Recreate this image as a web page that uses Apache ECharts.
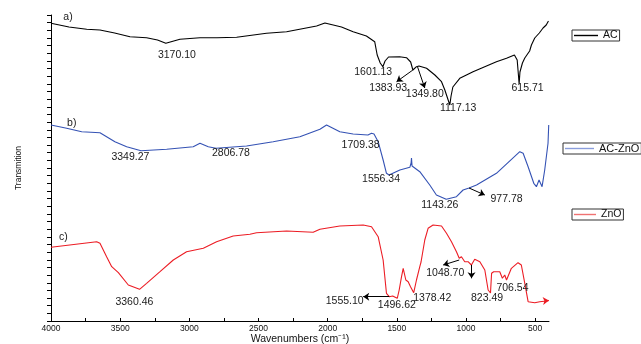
<!DOCTYPE html>
<html>
<head>
<meta charset="utf-8">
<script src="https://cdn.jsdelivr.net/npm/echarts@6/dist/echarts.min.js"></script>
<style>
  html, body { margin: 0; padding: 0; background: #fff; }
  #chart { width: 641px; height: 344px; }
</style>
</head>
<body>
<div id="chart"></div>
<script>
// ---- FTIR spectra: [wavenumber (cm-1), transmittance (offset, a.u.)] ----
const seriesNames = ['AC', 'AC-ZnO', 'ZnO'];

const xTickLabels = [4000, 3500, 3000, 2500, 2000, 1500, 1000, 500];
const xTickMarks = [4000, 3750, 3500, 3250, 3000, 2750, 2500, 2250, 2000, 1750, 1500, 1250, 1000, 750, 500];

const acSpectrum = [
  [4000, 297.7], [3870, 294], [3742, 291.7], [3646, 291], [3540, 288], [3429, 284.3],
  [3309, 283.3], [3230, 281], [3170, 277.7], [3068, 281.7], [2923, 283.3], [2800, 283.3],
  [2658, 283.7], [2442, 287.7], [2297, 289.3], [2080, 295], [2020, 298], [1900, 294],
  [1816, 289.3], [1720, 285], [1660, 279.3], [1642, 266], [1620, 258], [1601, 254.3],
  [1585, 260], [1560, 264], [1480, 264.3], [1430, 263.3], [1400, 259], [1384, 251],
  [1370, 252.7], [1358, 254.3], [1340, 255], [1285, 252.7], [1225, 246], [1177, 239.3],
  [1153, 231], [1129, 221], [1117, 216], [1108, 225], [1095, 234], [1045, 242.7],
  [949, 249.3], [780, 259.3], [707, 262.7], [650, 266], [630, 261], [621, 246],
  [616, 237], [610, 249], [592, 258], [575, 263], [563, 265], [540, 270], [527, 276],
  [503, 283], [470, 288], [443, 293], [420, 296], [404, 300]
];

const acZnoSpectrum = [
  [4000, 196], [3887, 192.7], [3778, 189.3], [3646, 188.3], [3538, 179.3], [3453, 174.3],
  [3349, 170.3], [3164, 171.7], [2972, 174.3], [2923, 177.7], [2863, 174.3], [2807, 172.7],
  [2586, 175], [2394, 179.3], [2201, 184.3], [2056, 191.7], [2008, 196], [1912, 189.3],
  [1816, 187], [1709, 186], [1683, 187.7], [1665, 187], [1635, 179.3], [1599, 161],
  [1575, 147.7], [1556, 146], [1478, 151], [1406, 153.7], [1397, 158], [1394, 163],
  [1390, 155], [1334, 149.3], [1262, 136], [1214, 126], [1143, 121.7], [1069, 124.3],
  [1021, 131], [978, 133], [924, 136], [780, 147.7], [611, 169.3], [587, 167.7],
  [551, 154.3], [510, 137.7], [491, 134.3], [472, 141], [450, 134.3], [431, 151],
  [414, 170], [407, 177.7], [402, 196]
];

const znoSpectrum = [
  [4000, 73.7], [3670, 79.3], [3646, 77.7], [3598, 64.3], [3561, 54.3], [3513, 48.3],
  [3441, 36], [3360, 31.7], [3309, 37.7], [3212, 49.3], [3116, 61], [3020, 69.3],
  [2899, 72.7], [2803, 79.3], [2683, 85], [2562, 86.7], [2514, 88.3], [2297, 90],
  [2105, 88.7], [2056, 91.7], [1912, 95], [1743, 96], [1683, 94.3], [1635, 84.3],
  [1599, 61], [1575, 27.7], [1555, 24.3], [1545, 26], [1530, 25], [1497, 22.7],
  [1483, 31], [1466, 44.3], [1454, 52.7], [1435, 41], [1418, 39.3], [1401, 34.3],
  [1378, 28.3], [1358, 41], [1334, 54.3], [1325, 59], [1298, 81], [1274, 92.7],
  [1238, 96], [1177, 95], [1141, 87.7], [1105, 79.3], [1069, 69.3], [1049, 62.7],
  [1033, 64.3], [1009, 59.3], [985, 59.3], [961, 56], [937, 61.7], [900, 59.3],
  [864, 51], [840, 31], [823, 28], [815, 47.7], [800, 49.3], [756, 49.3],
  [737, 42.7], [720, 46], [707, 41], [672, 52.7], [624, 58.3], [600, 56],
  [575, 37.7], [551, 19.3], [503, 18.3], [467, 19.3], [404, 20.3]
];

// Peak annotations (text) for each spectrum
const acPeakLabels = ['3170.10', '1601.13', '1383.93', '1349.80', '1117.13', '615.71'];
const acZnoPeakLabels = ['3349.27', '2806.78', '1709.38', '1556.34', '1143.26', '977.78'];
const znoPeakLabels = ['3360.46', '1555.10', '1496.62', '1378.42', '1048.70', '823.49', '706.54'];
const panelLabels = ['a)', 'b)', 'c)'];

// ---- Layout of annotations, in axis coordinates ----
const acLabelPos = [[3090, 266], [1671, 249.3], [1563, 232.7], [1298, 226.7], [1057, 212.7], [555, 232.7]];
const acZnoLabelPos = [[3426, 164.3], [2699, 167.7], [1762, 176], [1614, 141.7], [1189, 116], [707, 121.7]];
const znoLabelPos = [[3397, 19.3], [1877, 20], [1500, 16], [1244, 23.3], [1150, 48.3], [848, 22.7], [664, 32.7]];
const panelLabelPos = [[3877, 304.3], [3850, 197.7], [3911, 84.3]];

const acArrows = [[[1384, 251], [1502, 239.3]], [[1350, 254], [1298, 233]]];
const acZnoArrows = [[[978, 133], [864, 126]]];
const znoArrows = [[[1555, 24.3], [1743, 24.3]], [[1049, 61], [1165, 56]], [[960, 56], [960, 42.7]]];
const znoTailArrow = [[426, 20.3], [401, 20.6]];

const FONT = "'Liberation Sans', Arial, Helvetica, sans-serif";
const lineColors = ['#000000', '#3452b4', '#ec1c24'];
const legendColors = ['#000000', '#8a9ddc', '#f07272'];

function labelMarks(texts, positions, panelIdx) {
  const items = texts.map((t, i) => ({ name: t, coord: positions[i] }));
  items.push({ name: panelLabels[panelIdx], coord: panelLabelPos[panelIdx] });
  return {
    silent: true,
    symbol: 'rect',
    symbolSize: 1,
    itemStyle: { color: 'rgba(0,0,0,0)' },
    label: {
      show: true,
      position: 'inside',
      formatter: '{b}',
      color: '#1a1a1a',
      fontSize: 10.5,
      fontFamily: FONT
    },
    data: items
  };
}

function arrowMarks(arrows, extra) {
  const data = arrows.map(a => [
    { coord: a[0], lineStyle: { color: '#000', width: 1, type: 'solid' }, itemStyle: { color: '#000' } },
    { coord: a[1], itemStyle: { color: '#000' } }
  ]);
  if (extra) data.push(extra);
  return {
    silent: true,
    symbol: ['none', 'arrow'],
    symbolSize: 6,
    label: { show: false },
    lineStyle: { color: '#000', width: 1, type: 'solid' },
    itemStyle: { color: '#000' },
    data: data
  };
}

function spectrum(name, data, idx, texts, positions, arrows, extra) {
  return {
    name: name,
    type: 'line',
    data: data,
    showSymbol: false,
    symbol: 'none',
    smooth: false,
    lineStyle: { color: lineColors[idx], width: 1.1 },
    itemStyle: { color: lineColors[idx] },
    markPoint: labelMarks(texts, positions, idx),
    markLine: arrowMarks(arrows, extra),
    z: 2
  };
}

function legendBox(idx, left, top, itemWidth, fontSize) {
  return {
    data: [{ name: seriesNames[idx], itemStyle: { color: legendColors[idx] } }],
    left: left,
    top: top,
    orient: 'horizontal',
    icon: 'rect',
    itemWidth: itemWidth,
    itemHeight: 1.4,
    padding: [0, 2, 0, 2],
    borderColor: '#333',
    borderWidth: 1,
    backgroundColor: '#fff',
    selectedMode: false,
    textStyle: { fontSize: fontSize, fontFamily: FONT, color: '#111', lineHeight: 9 }
  };
}

const chart = echarts.init(document.getElementById('chart'), null, { renderer: 'canvas' });

chart.setOption({
  animation: false,
  backgroundColor: '#fff',
  grid: { left: 51, right: 92, top: 15, bottom: 23, containLabel: false, outerBoundsMode: 'none' },
  xAxis: {
    type: 'value',
    inverse: true,
    min: 400,
    max: 4000,
    name: 'Wavenumbers (cm⁻¹)',
    nameLocation: 'middle',
    nameGap: 13,
    nameMoveOverlap: false,
    nameTextStyle: { fontSize: 10.5, fontFamily: FONT, color: '#111', verticalAlign: 'top' },
    axisLine: { lineStyle: { color: '#000', width: 1 } },
    axisTick: { inside: true, length: 3, customValues: xTickMarks, lineStyle: { color: '#000' } },
    axisLabel: {
      customValues: xTickLabels,
      formatter: v => String(v),
      fontSize: 8.5, fontFamily: FONT, color: '#111', margin: 3
    },
    splitLine: { show: false }
  },
  yAxis: {
    type: 'value',
    min: 0,
    max: 306,
    interval: 7.65,
    name: 'Transmition',
    nameLocation: 'middle',
    nameGap: 28,
    nameMoveOverlap: false,
    nameTextStyle: { fontSize: 8.5, fontFamily: FONT, color: '#111' },
    axisLine: { show: true, lineStyle: { color: '#000', width: 1 } },
    axisTick: { show: true, inside: false, length: 4, lineStyle: { color: '#000' } },
    axisLabel: { show: false },
    splitLine: { show: false }
  },
  legend: [
    legendBox(0, 572, 30, 24, 10.5),
    legendBox(1, 563, 143, 29, 11),
    legendBox(2, 572, 209, 22, 10.5)
  ],
  series: [
    spectrum(seriesNames[0], acSpectrum, 0, acPeakLabels, acLabelPos, acArrows),
    spectrum(seriesNames[1], acZnoSpectrum, 1, acZnoPeakLabels, acZnoLabelPos, acZnoArrows),
    spectrum(seriesNames[2], znoSpectrum, 2, znoPeakLabels, znoLabelPos, znoArrows,
      [{ coord: znoTailArrow[0], lineStyle: { color: lineColors[2], width: 1.1, type: 'solid' }, itemStyle: { color: lineColors[2] } },
       { coord: znoTailArrow[1], itemStyle: { color: lineColors[2] } }])
  ]
});
</script>
</body>
</html>
